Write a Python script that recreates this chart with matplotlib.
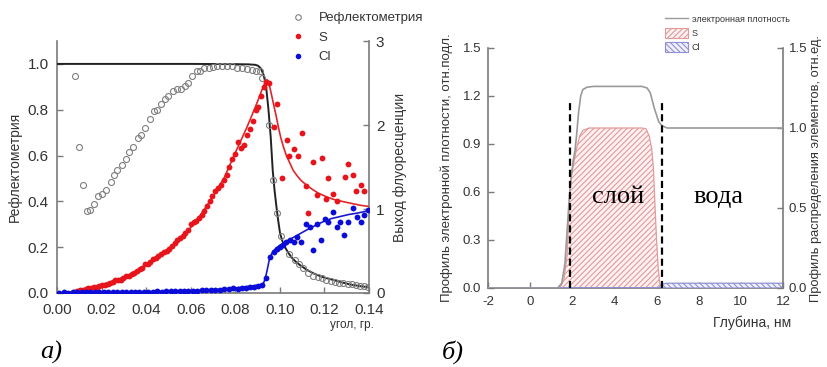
import matplotlib
matplotlib.use("Agg")
import matplotlib.pyplot as plt
from matplotlib.lines import Line2D
from matplotlib.patches import Patch

plt.rcParams['font.family'] = ['Liberation Sans', 'DejaVu Sans']
plt.rcParams['hatch.linewidth'] = 0.8
plt.rcParams['axes.unicode_minus'] = False

# ---------------- panel a) data ----------------
refl_q = [0.0081, 0.0099, 0.0115, 0.0136, 0.0148, 0.0166, 0.0183, 0.0200, 0.0220, 0.0242,
          0.0255, 0.0270, 0.0290, 0.0310, 0.0323, 0.0342, 0.0362, 0.0377, 0.0395, 0.0417,
          0.0434, 0.0447, 0.0467, 0.0485, 0.0500, 0.0522, 0.0540, 0.0555, 0.0574, 0.0589,
          0.0604, 0.0627, 0.0642, 0.0660, 0.0680, 0.0698, 0.0717, 0.0739, 0.0761, 0.0784,
          0.0806, 0.0829, 0.0851, 0.0874, 0.0893, 0.0911, 0.0918, 0.0953, 0.0968, 0.0985,
          0.1005, 0.1042, 0.1068, 0.1086, 0.1105, 0.1128, 0.1150, 0.1170, 0.1188, 0.1207,
          0.1228, 0.1247, 0.1267, 0.1285, 0.1304, 0.1322, 0.1342, 0.1360, 0.1379, 0.1397]
refl_R = [0.948, 0.636, 0.470, 0.358, 0.364, 0.387, 0.422, 0.430, 0.451, 0.483,
          0.516, 0.538, 0.559, 0.585, 0.617, 0.636, 0.677, 0.691, 0.720, 0.759,
          0.793, 0.800, 0.827, 0.846, 0.861, 0.883, 0.890, 0.890, 0.904, 0.916,
          0.948, 0.967, 0.970, 0.981, 0.984, 0.986, 0.991, 0.991, 0.991, 0.989,
          0.984, 0.980, 0.977, 0.973, 0.970, 0.967, 0.938, 0.735, 0.494, 0.349,
          0.249, 0.172, 0.143, 0.125, 0.107, 0.086, 0.074, 0.068, 0.064, 0.057,
          0.052, 0.049, 0.045, 0.042, 0.039, 0.038, 0.035, 0.032, 0.030, 0.028]

refl_fit_q = [0.0, 0.030, 0.060, 0.080, 0.086, 0.0890, 0.0902, 0.0915, 0.0926, 0.0937,
              0.0948, 0.0959, 0.0968, 0.0976, 0.0983, 0.0992, 0.1001, 0.1012, 0.1023, 0.1038,
              0.1053, 0.1070, 0.1090, 0.1120, 0.1150, 0.1190, 0.1240, 0.1280, 0.1315, 0.1360, 0.1400]
refl_fit_R = [1.000, 1.000, 1.000, 0.999, 0.998, 0.996, 0.992, 0.980, 0.955, 0.912,
              0.810, 0.680, 0.535, 0.450, 0.390, 0.320, 0.260, 0.225, 0.200, 0.175,
              0.155, 0.138, 0.122, 0.102, 0.086, 0.070, 0.057, 0.046, 0.037, 0.030, 0.025]

S_q = [0.0066, 0.0078, 0.0090, 0.0103, 0.0115, 0.0128, 0.0141, 0.0153, 0.0166, 0.0178,
       0.0190, 0.0203, 0.0215, 0.0227, 0.0238, 0.0250, 0.0262, 0.0274, 0.0286, 0.0298,
       0.0310, 0.0322, 0.0335, 0.0347, 0.0359, 0.0371, 0.0383, 0.0395, 0.0407, 0.0419,
       0.0431, 0.0443, 0.0455, 0.0467, 0.0480, 0.0492, 0.0504, 0.0516, 0.0528, 0.0540,
       0.0552, 0.0564, 0.0576, 0.0589, 0.0601, 0.0613, 0.0625, 0.0637, 0.0649, 0.0661,
       0.0673, 0.0685, 0.0697, 0.0709, 0.0722, 0.0735, 0.0748, 0.0761, 0.0774, 0.0787,
       0.0800, 0.0813, 0.0826, 0.0839, 0.0852, 0.0865, 0.0878, 0.0891, 0.0904, 0.0917,
       0.0930, 0.0940, 0.0952, 0.0974, 0.0985, 0.1008, 0.1030, 0.1042, 0.1064, 0.1083,
       0.1098, 0.1117, 0.1128, 0.1150, 0.1168, 0.1188, 0.1207, 0.1217, 0.1237, 0.1255,
       0.1292, 0.1307, 0.1327, 0.1342, 0.1364, 0.1379]
S_Y = [0.000, 0.010, 0.020, 0.030, 0.040, 0.050, 0.056, 0.065, 0.070, 0.075,
       0.085, 0.090, 0.095, 0.110, 0.123, 0.135, 0.150, 0.155, 0.160, 0.175,
       0.200, 0.205, 0.226, 0.240, 0.260, 0.280, 0.300, 0.340, 0.350, 0.370,
       0.400, 0.420, 0.440, 0.470, 0.490, 0.500, 0.520, 0.560, 0.600, 0.630,
       0.650, 0.680, 0.710, 0.750, 0.820, 0.840, 0.860, 0.890, 0.930, 0.980,
       1.040, 1.100, 1.150, 1.210, 1.250, 1.290, 1.340, 1.410, 1.500, 1.600,
       1.660, 1.800, 1.730, 1.760, 1.880, 1.950, 2.050, 2.180, 2.220, 2.340,
       2.450, 2.510, 2.500, 1.980, 2.250, 1.365, 1.820, 1.630, 1.720, 1.630,
       1.910, 1.270, 0.956, 1.560, 1.170, 1.610, 1.120, 1.365, 1.180, 1.090,
       1.385, 1.535, 1.400, 1.220, 1.290, 1.220]

S_fit_q = [0.000, 0.008, 0.012, 0.016, 0.020, 0.025, 0.030, 0.035, 0.040, 0.045,
           0.050, 0.055, 0.060, 0.065, 0.070, 0.075, 0.080, 0.085, 0.088, 0.090,
           0.092, 0.0933, 0.0942, 0.0949, 0.0956, 0.0965, 0.0974, 0.0984, 0.0993, 0.1004,
           0.1016, 0.1030, 0.1046, 0.1060, 0.1076, 0.1095, 0.1117, 0.1145, 0.1172, 0.1205,
           0.1240, 0.1280, 0.1315, 0.1360, 0.1400]
S_fit_Y = [0.000, 0.005, 0.040, 0.070, 0.100, 0.140, 0.190, 0.250, 0.330, 0.420,
           0.530, 0.640, 0.780, 0.950, 1.150, 1.370, 1.670, 1.960, 2.150, 2.280,
           2.420, 2.500, 2.540, 2.520, 2.440, 2.330, 2.220, 2.100, 1.980, 1.850,
           1.740, 1.630, 1.540, 1.460, 1.400, 1.340, 1.290, 1.235, 1.190, 1.150,
           1.115, 1.090, 1.070, 1.045, 1.030]

Cl_q = [0.0010, 0.0030, 0.0050, 0.0070, 0.0090, 0.0110, 0.0130, 0.0150, 0.0170, 0.0190,
        0.0210, 0.0230, 0.0250, 0.0270, 0.0290, 0.0310, 0.0330, 0.0350, 0.0370, 0.0390,
        0.0410, 0.0430, 0.0450, 0.0470, 0.0490, 0.0510, 0.0530, 0.0550, 0.0570, 0.0590,
        0.0610, 0.0630, 0.0650, 0.0670, 0.0690, 0.0710, 0.0730, 0.0750, 0.0770, 0.0790,
        0.0810, 0.0830, 0.0850, 0.0866, 0.0882, 0.0900, 0.0918, 0.0938, 0.0956, 0.0974,
        0.0989, 0.1001, 0.1016, 0.1028, 0.1046, 0.1065, 0.1078, 0.1095, 0.1117, 0.1135,
        0.1150, 0.1168, 0.1185, 0.1203, 0.1217, 0.1237, 0.1255, 0.1270, 0.1290, 0.1307,
        0.1327, 0.1345, 0.1364, 0.1379, 0.1397]
Cl_Y = [0.005, 0.006, 0.004, 0.008, 0.006, 0.007, 0.009, 0.006, 0.010, 0.008,
        0.010, 0.012, 0.009, 0.011, 0.013, 0.010, 0.014, 0.012, 0.015, 0.013,
        0.016, 0.015, 0.018, 0.017, 0.020, 0.019, 0.022, 0.021, 0.025, 0.024,
        0.028, 0.026, 0.030, 0.032, 0.035, 0.030, 0.040, 0.045, 0.042, 0.055,
        0.050, 0.060, 0.065, 0.075, 0.070, 0.085, 0.095, 0.175, 0.425, 0.490,
        0.520, 0.550, 0.570, 0.610, 0.630, 0.610, 0.670, 0.610, 0.820, 0.790,
        0.510, 0.820, 0.630, 0.880, 0.850, 0.970, 0.790, 0.840, 0.690, 0.850,
        1.010, 0.910, 0.840, 0.930, 0.990]

Cl_fit_q = [0.000, 0.020, 0.040, 0.060, 0.070, 0.080, 0.088, 0.0915, 0.0926, 0.0933,
            0.0940, 0.0946, 0.0952, 0.0960, 0.0968, 0.0980, 0.1001, 0.1025, 0.1046, 0.1080,
            0.1120, 0.1160, 0.1195, 0.1230, 0.1270, 0.1310, 0.1345, 0.1400]
Cl_fit_Y = [0.000, 0.005, 0.015, 0.030, 0.040, 0.060, 0.085, 0.100, 0.115, 0.160,
            0.235, 0.310, 0.390, 0.450, 0.490, 0.525, 0.570, 0.610, 0.640, 0.690,
            0.750, 0.805, 0.850, 0.885, 0.910, 0.935, 0.950, 0.980]

# ---------------- panel б) data ----------------
rho_z = [-2.0, 1.30, 1.50, 1.65, 1.75, 1.85, 1.95, 2.05, 2.13, 2.20, 2.30, 2.40, 2.50, 2.70,
         3.00, 5.30, 5.55, 5.70, 5.80, 5.90, 6.00, 6.10, 6.25, 6.50, 12.0]
rho_v = [0.0, 0.0, 0.03, 0.15, 0.35, 0.55, 0.70, 0.80, 0.86, 0.95, 1.10, 1.20, 1.24, 1.255,
         1.26, 1.26, 1.25, 1.22, 1.17, 1.12, 1.08, 1.04, 1.015, 1.0, 1.0]

S_z = [-2.0, 1.30, 1.45, 1.60, 1.75, 1.85, 1.95, 2.10, 2.20, 2.35, 2.50, 2.80, 5.30, 5.50,
       5.65, 5.77, 5.85, 5.93, 6.00, 6.08, 6.15, 6.25, 12.0]
S_v = [0.0, 0.0, 0.01, 0.05, 0.20, 0.50, 0.70, 0.80, 0.87, 0.95, 0.985, 1.0, 1.0, 0.995,
       0.95, 0.87, 0.75, 0.50, 0.30, 0.12, 0.03, 0.0, 0.0]

Cl_z = [-2.0, 6.10, 6.20, 6.30, 6.50, 12.0]
Cl_v = [0.0, 0.0, 0.015, 0.025, 0.03, 0.03]

boundaries = [1.89, 6.24]

# ---------------- figure ----------------
W, H = 827, 367
fig = plt.figure(figsize=(W / 100, H / 100), dpi=100)

spine_c = '#7a7a7a'
lab_c = '#333333'


def style(ax, sides):
    for s in ['top', 'left', 'right', 'bottom']:
        ax.spines[s].set_visible(s in sides)
        ax.spines[s].set_color(spine_c)
        ax.spines[s].set_linewidth(1.2)
    ax.tick_params(direction='in', length=4, width=1, colors=spine_c, labelcolor=lab_c)


# ---- panel a ----
ax1 = fig.add_axes([57 / W, 1 - 293 / H, (369 - 57) / W, (293 - 41) / H])
ax2 = ax1.twinx()
style(ax1, ['left', 'bottom'])
style(ax2, ['right'])
ax1.set_xlim(0, 0.14)
ax1.set_ylim(0, 1.1)
ax2.set_ylim(0, 3)
ax1.set_xticks([0, 0.02, 0.04, 0.06, 0.08, 0.10, 0.12, 0.14])
ax1.set_xticklabels(['0.00', '0.02', '0.04', '0.06', '0.08', '0.10', '0.12', '0.14'])
ax1.set_yticks([0, 0.2, 0.4, 0.6, 0.8, 1.0])
ax1.set_yticklabels(['0.0', '0.2', '0.4', '0.6', '0.8', '1.0'])
ax2.set_yticks([0, 1, 2, 3])
ax1.tick_params(axis='x', labelsize=11, pad=7)
ax1.tick_params(axis='y', labelsize=11, pad=6)
ax2.tick_params(labelsize=11, pad=5)

ax1.plot(refl_fit_q, refl_fit_R, color='#222222', lw=1.4, zorder=3)
ax1.plot(refl_q, refl_R, 'o', mfc='none', mec='#7f7f7f', ms=4.3, mew=0.8, zorder=4)
ax2.plot(S_fit_q, S_fit_Y, color='#e0262a', lw=1.2, zorder=3)
ax2.plot(Cl_fit_q, Cl_fit_Y, color='#1a1acc', lw=1.2, zorder=3)
ax2.plot(S_q, S_Y, 'o', color='#e8141b', ms=4.2, mew=0, zorder=4)
ax2.plot(Cl_q, Cl_Y, 'o', color='#0c0cd8', ms=4.2, mew=0, zorder=4)

ax1.set_ylabel('Рефлектометрия', fontsize=10, color=lab_c, labelpad=4)
ax2.set_ylabel('Выход флуоресценции', fontsize=10, color=lab_c, labelpad=6)
fig.text(352 / W, 1 - 325 / H, 'угол, гр.', fontsize=8.5, color=lab_c, ha='center', va='center')

handles_a = [Line2D([], [], ls='none', marker='o', mfc='none', mec='#7f7f7f', ms=4, mew=0.8),
             Line2D([], [], ls='none', marker='o', color='#e8141b', ms=4, mew=0),
             Line2D([], [], ls='none', marker='o', color='#0c0cd8', ms=4, mew=0)]
fig.legend(handles_a, ['Рефлектометрия', 'S', 'Cl'], loc='upper left',
           bbox_to_anchor=(291 / W, 1 - 12 / H), frameon=False, fontsize=9.5,
           handlelength=1.0, handletextpad=1.1, labelspacing=0.55, labelcolor=lab_c,
           borderpad=0, borderaxespad=0)

fig.text(40 / W, 1 - 352 / H, 'a)', fontsize=19, family='Liberation Serif', style='italic',
         ha='left', va='center')

# ---- panel б ----
ax3 = fig.add_axes([488 / W, 1 - 288 / H, (783 - 488) / W, (288 - 48) / H])
ax4 = ax3.twinx()
style(ax3, ['left', 'bottom'])
style(ax4, ['right'])
ax3.set_xlim(-2, 12)
ax3.set_ylim(0, 1.5)
ax4.set_ylim(0, 1.5)
ax3.set_xticks([-2, 0, 2, 4, 6, 8, 10, 12])
ax3.set_yticks([0, 0.3, 0.6, 0.9, 1.2, 1.5])
ax3.set_yticklabels(['0.0', '0.3', '0.6', '0.9', '1.2', '1.5'])
ax4.set_yticks([0, 0.5, 1.0, 1.5])
ax4.set_yticklabels(['0.0', '0.5', '1.0', '1.5'])
ax3.tick_params(axis='x', labelsize=9.5, pad=6)
ax3.tick_params(axis='y', labelsize=9.5, pad=5)
ax4.tick_params(labelsize=9.5, pad=4)

ax4.fill_between(S_z, S_v, 0, facecolor='#fdf1f1', edgecolor='#e39a9a', hatch='//////',
                 linewidth=0.9, zorder=1)
ax4.fill_between(Cl_z, Cl_v, 0, facecolor='#f1f1fb', edgecolor='#8f8fd8', hatch='\\\\\\\\\\\\',
                 linewidth=0.9, zorder=1)
ax4.plot(rho_z, rho_v, color='#9a9a9a', lw=1.2, zorder=3)
ax4.vlines(boundaries, 0, 1.17, colors='black', linestyles=(0, (3.2, 1.8)), lw=1.6, zorder=4)

ax4.text(4.17, 0.57, 'слой', fontsize=19, family='Liberation Serif', ha='center', va='center')
ax4.text(8.92, 0.57, 'вода', fontsize=19, family='Liberation Serif', ha='center', va='center')

ax3.set_ylabel('Профиль электронной плотности, отн.подл.', fontsize=9.5, color=lab_c, labelpad=7)
ax4.set_ylabel('Профиль распределения элементов, отн.ед.', fontsize=9.3, color=lab_c, labelpad=2)
fig.text(752 / W, 1 - 323 / H, 'Глубина, нм', fontsize=10, color=lab_c, ha='center', va='center')

handles_b = [Line2D([], [], color='#9a9a9a', lw=1.0),
             Patch(facecolor='#fdf1f1', edgecolor='#e39a9a', hatch='//////', lw=0.8),
             Patch(facecolor='#f1f1fb', edgecolor='#8f8fd8', hatch='\\\\\\\\\\\\', lw=0.8)]
fig.legend(handles_b, ['электронная плотность', 'S', 'Cl'], loc='upper left',
           bbox_to_anchor=(665 / W, 1 - 14 / H), frameon=False, fontsize=6.5,
           handlelength=2.6, handleheight=1.3, handletextpad=0.35, labelspacing=0.45,
           labelcolor=lab_c, borderpad=0, borderaxespad=0)

fig.text(442 / W, 1 - 352 / H, 'б)', fontsize=19, family='Liberation Serif', style='italic',
         ha='left', va='center')

fig.savefig('out.png', dpi=100)
